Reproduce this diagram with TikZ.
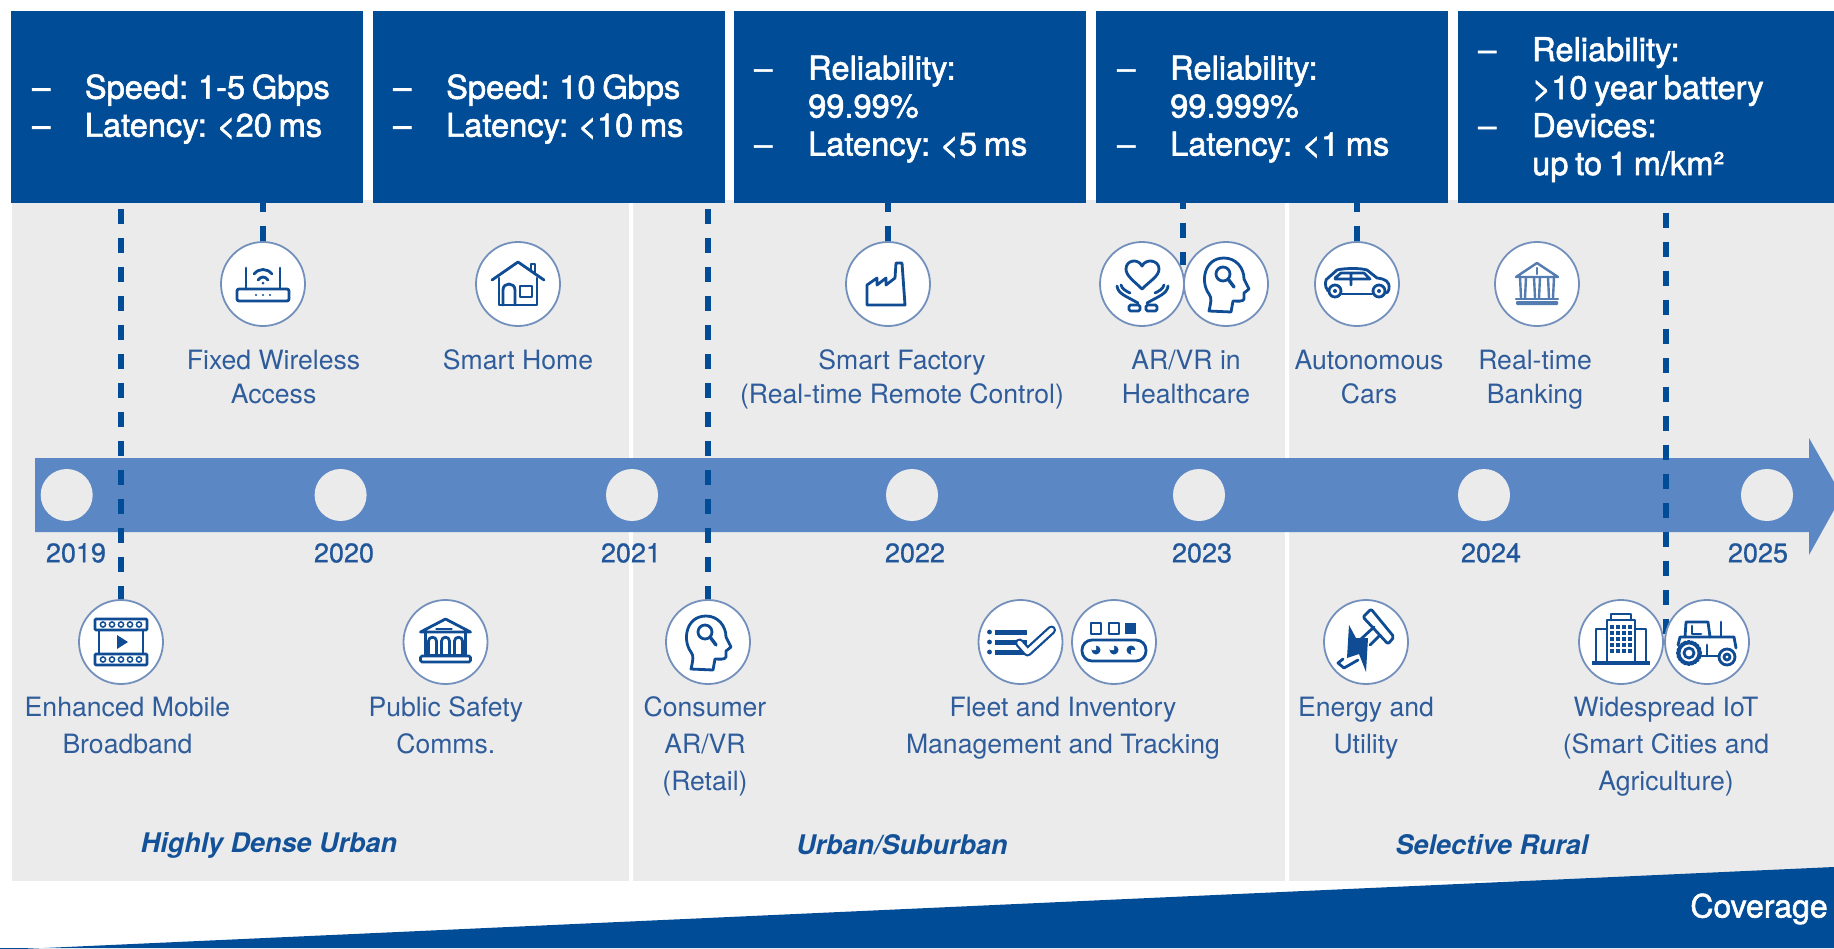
\documentclass[tikz,border=0pt]{standalone}
\usepackage{fontspec}
\setmainfont{TeX Gyre Heros}
\newfontfamily\medf{TeX Gyre Heros}[FakeBold=1.8,WordSpace=0.75]
\newfontfamily\yearf{TeX Gyre Heros}[FakeBold=0.8]
\definecolor{navy}{HTML}{004C97}
\definecolor{barblue}{HTML}{5B87C5}
\definecolor{panelgray}{HTML}{EBEBEB}
\definecolor{ringblue}{HTML}{7390BC}
\definecolor{labelblue}{HTML}{2F5C9B}
\definecolor{iconblue}{HTML}{0F4C94}
\pgfdeclarelayer{backdrop}
\pgfdeclarelayer{links}
\pgfsetlayers{backdrop,links,main}
\tikzset{
  x=1pt,y=-1pt,
  topbox/.style={fill=navy,anchor=north west,inner sep=0pt,minimum height=191.6pt},
  boxtext/.style={anchor=base west,inner sep=0pt,text=white,font=\fontsize{32.6}{38}\selectfont\medf},
  usecase/.style={anchor=center,inner sep=0pt,align=center,text=labelblue,font=\fontsize{26.6}{34.5}\selectfont},
  usecaselow/.style={usecase,font=\fontsize{26.6}{37}\selectfont},
  yeartext/.style={anchor=center,inner sep=0pt,text=labelblue!70!navy,font=\fontsize{27}{32}\selectfont\yearf},
  zonetext/.style={anchor=center,inner sep=0pt,text=labelblue!40!navy,font=\fontsize{27}{32}\selectfont\bfseries\itshape},
  iconring/.style={circle,fill=white,draw=ringblue,line width=1.8pt,minimum size=84pt,inner sep=0pt},
  yeardot/.style={circle,fill=panelgray,minimum size=52pt,inner sep=0pt},
  linkline/.style={draw=navy,line width=5.5pt,dash pattern=on 15.5pt off 13.5pt},
  iconline/.style={draw=iconblue,line width=2.8pt,line join=round,line cap=round},
  iconfill/.style={fill=iconblue},
}
\newcommand{\iconRouter}[1]{\begin{scope}[shift={(#1.center)},iconline]
  \draw[rounded corners=2pt] (-26,5) rectangle (26,17);
  \draw (-17,5) -- (-17,-16) (17,5) -- (17,-16);
  \draw (-9,-10) .. controls (-4,-16) and (4,-16) .. (9,-10);
  \draw (-5,-4) .. controls (-2,-8) and (2,-8) .. (5,-4);
  \fill[iconfill] (0,-1) circle (1.5pt) (-7,11) circle (1.1pt) (0,11) circle (1.1pt) (7,11) circle (1.1pt);
\end{scope}}
\newcommand{\iconHome}[1]{\begin{scope}[shift={(#1.center)},iconline]
  \draw (-26,-4) -- (0,-22) -- (26,-4);
  \draw (-19,-6) -- (-19,21) -- (19,21) -- (19,-6);
  \draw (13,-13) -- (13,-20) -- (17,-20) -- (17,-10);
  \draw (-15,21) -- (-15,6) .. controls (-15,-2) and (-3,-2) .. (-3,6) -- (-3,21);
  \draw (2,2) rectangle (14,13);
\end{scope}}
\newcommand{\iconFactory}[1]{\begin{scope}[shift={(#1.center)},iconline]
  \draw (-21,21) -- (-21,1) -- (-11,-6) -- (-11,1) -- (-2,-6) -- (-2,1) -- (7,-6) -- (8,-21) -- (14,-21) -- (17,21) -- cycle;
\end{scope}}
\newcommand{\iconHeart}[1]{\begin{scope}[shift={(#1.center)},iconline]
  \draw (0,5) .. controls (-8,-3) and (-16,-8) .. (-16,-15) .. controls (-16,-24) and (-4,-26) .. (0,-18) .. controls (4,-26) and (17,-24) .. (17,-15) .. controls (17,-8) and (8,-3) .. (0,5) -- cycle;
  \draw (-25,2) .. controls (-24,10) and (-16,12) .. (-4,19) (-21,1) .. controls (-20,5) and (-16,7) .. (-12,9);
  \draw (26,2) .. controls (25,10) and (17,12) .. (5,19) (22,1) .. controls (21,5) and (17,7) .. (13,9);
  \draw[rounded corners=1.5pt] (-13,21) rectangle (-2,27) (4,21) rectangle (15,27);
\end{scope}}
\newcommand{\iconHead}[1]{\begin{scope}[shift={(#1.center)},iconline]
  \draw (-17,27) .. controls (-15,18) and (-14,14) .. (-17,10) .. controls (-26,-2) and (-22,-26) .. (-2,-26) .. controls (10,-26) and (18,-16) .. (18,-5) -- (23,5) -- (18,9) -- (18,15) .. controls (17,18) and (11,17) .. (7,17) -- (5,28) -- cycle;
  \draw (-3,-10) circle (7pt);
  \draw[line width=3.4pt] (2,-5) -- (8,3);
\end{scope}}
\newcommand{\iconCar}[1]{\begin{scope}[shift={(#1.center)},iconline]
  \draw (-29,7) .. controls (-33,2) and (-32,-5) .. (-29,-6) -- (-20,-14) .. controls (-12,-16) and (4,-16) .. (10,-14) -- (20,-6) .. controls (28,-5) and (33,-3) .. (32,5) .. controls (32,8) and (30,9) .. (28,9);
  \draw (-15,10) -- (15,10);
  \draw (-22,-6) -- (-16,-11) -- (-6,-11) -- (-6,1) (-6,-11) -- (7,-11) -- (13,-5) -- (-22,-5);
  \draw (-22,7) circle (6pt) (22,7) circle (6pt);
  \fill[iconfill] (-22,7) circle (2pt) (22,7) circle (2pt);
\end{scope}}
\newcommand{\iconGreek}[1]{\begin{scope}[shift={(#1.center)},iconline,draw=ringblue!70!iconblue,line width=2.4pt]
  \draw (-21,-7) -- (0,-21) -- (21,-7) -- cycle;
  \draw (0,-16) -- (0,-10);
  \foreach \cx in {-14,0,14} {\draw (\cx-3,-7) -- (\cx-2,14) (\cx+3,-7) -- (\cx+2,14);}
  \draw (-21,15) -- (21,15);
  \fill[ringblue!70!iconblue,rounded corners=1pt] (-21,17) rectangle (21,21);
\end{scope}}
\newcommand{\iconFilm}[1]{\begin{scope}[shift={(#1.center)},iconline]
  \draw[rounded corners=1pt] (-26,-23) rectangle (26,-12) (-26,12) rectangle (26,23);
  \draw (-22,-12) -- (-22,12) (22,-12) -- (22,12);
  \foreach \cx in {-18,-9,0,9,18} {\draw[line width=1.5pt] (\cx,-17.5) circle (2.6pt) (\cx,17.5) circle (2.6pt);}
  \fill[iconfill] (-4,-7) -- (7,0) -- (-4,7) -- cycle;
\end{scope}}
\newcommand{\iconCivic}[1]{\begin{scope}[shift={(#1.center)},iconline]
  \draw (-25,-10) -- (0,-23) -- (25,-10) -- (-25,-10);
  \draw (-9,-13) -- (6,-13);
  \foreach \cx in {-13,0,13} {\draw (\cx-4,13) -- (\cx-4,-1) .. controls (\cx-4,-6) and (\cx+4,-6) .. (\cx+4,-1) -- (\cx+4,13);}
  \draw (-20,-10) -- (-20,13) -- (20,13) -- (20,-10);
  \draw[rounded corners=1.5pt] (-25,14) rectangle (25,20);
\end{scope}}
\newcommand{\iconList}[1]{\begin{scope}[shift={(#1.center)},iconline]
  \foreach \ry in {-10,0,10} {\draw[line width=5pt,line cap=butt] (-26,\ry) -- (6,\ry); \fill[iconfill] (-31,\ry) circle (2.4pt);}
  \draw[line width=9pt] (-1,1) -- (7,10) -- (31,-12);
  \draw[white,line width=4.5pt] (-1,1) -- (7,10) -- (31,-12);
\end{scope}}
\newcommand{\iconBelt}[1]{\begin{scope}[shift={(#1.center)},iconline]
  \draw (-23,-19) rectangle (-13,-8) (-5,-19) rectangle (5,-8);
  \fill[iconfill] (11,-19) rectangle (22,-8);
  \draw[rounded corners=10pt] (-32,-2) rectangle (32,19);
  \foreach \cx in {-18,0,17} {\fill[iconfill] (\cx,8) circle (4.5pt);}
  \fill[white] (-22,3) rectangle (-18,8) (-4,3) rectangle (0,8) (17,8) rectangle (22,12);
\end{scope}}
\newcommand{\iconEnergy}[1]{\begin{scope}[shift={(#1.center)},iconline]
  \draw[rounded corners=2pt] (-3,-25) -- (5,-33) -- (28,-5) -- (22,2) -- cycle;
  \draw (8,-15) -- (-5,-3) (14,-7) -- (4,3);
  \fill[iconfill] (-17,-17) -- (-10,-4) -- (2,-4) -- (0,30) -- (-7,12) -- (-19,16) -- cycle;
  \draw (-23,17) -- (-28,21) -- (-22,26) -- (-8,18);
\end{scope}}
\newcommand{\iconTower}[1]{\begin{scope}[shift={(#1.center)},iconline]
  \draw (-14,21) -- (-14,-22) -- (14,-22) -- (14,21);
  \draw (-10,-22) -- (-10,-28) -- (10,-28) -- (10,-22);
  \draw (-14,-13) -- (-25,-13) -- (-25,21) (14,-13) -- (25,-13) -- (25,21);
  \draw[line width=3.5pt,line cap=butt] (-29,21) -- (29,21);
  \foreach \wx in {-9,-3,3,9} {\foreach \wy in {-15,-9,-3,3,9} {\fill[iconfill] (\wx-1.6,\wy-1.6) rectangle (\wx+1.6,\wy+1.6);}}
\end{scope}}
\newcommand{\iconTractor}[1]{\begin{scope}[shift={(#1.center)},iconline]
  \draw[line width=2.8pt,dash pattern=on 2pt off 1.5pt] (-18,11) circle (11.5pt);
  \draw (-18,11) circle (10pt) (-18,11) circle (5pt);
  \draw (20,15) circle (8pt) (20,15) circle (3pt);
  \draw (-22,-5) -- (-21,-20) -- (1,-20) -- (3,-5);
  \draw (-29,3) -- (-27,-5) -- (27,-5) -- (29,6);
  \draw (-7,14) -- (11,14) (0,3) -- (0,14);
  \draw (14,-6) -- (14,-20);
  \draw (-15,-16) -- (-15,-8) -- (-6,-8);
\end{scope}}
\begin{document}
\begin{tikzpicture}
\useasboundingbox (0,0) rectangle (1834,948);
\begin{pgfonlayer}{backdrop}
  \fill[white] (0,0) rectangle (1834,948);
  \fill[panelgray] (12,200) rectangle (1834,881);
  \fill[white] (629,200) rectangle (633,881) (1285,200) rectangle (1289,881);
  \fill[navy] (0,950) -- (1834,867) -- (1834,948) -- (0,948) -- cycle;
  \fill[barblue] (35,458) -- (1809,458) -- (1809,438) -- (1834,482) -- (1834,510) -- (1809,555) -- (1809,532) -- (35,532) -- cycle;
\end{pgfonlayer}
% header boxes
\node[topbox,minimum width=352.3pt] (b1) at (10.7,10.7) {};
\node[topbox,minimum width=351.5pt] (b2) at (373,10.7) {};
\node[topbox,minimum width=352.3pt] (b3) at (733.7,10.7) {};
\node[topbox,minimum width=352pt] (b4) at (1096,10.7) {};
\node[topbox,minimum width=376pt] (b5) at (1458,10.7) {};
\node[boxtext] (b1d1) at (32,98.7) {–};
\node[boxtext] (b1t1) at (84.7,98.7) {Speed: 1-5 Gbps};
\node[boxtext] (b1d2) at (32,136.7) {–};
\node[boxtext] (b1t2) at (84.7,136.7) {Latency: <20 ms};
\node[boxtext] (b2d1) at (393,98.7) {–};
\node[boxtext] (b2t1) at (446,98.7) {Speed: 10 Gbps};
\node[boxtext] (b2d2) at (393,136.7) {–};
\node[boxtext] (b2t2) at (446,136.7) {Latency: <10 ms};
\node[boxtext] (b3d1) at (754,79.5) {–};
\node[boxtext] (b3t1) at (808,79.5) {Reliability:};
\node[boxtext] (b3t2) at (808,117.5) {99.99\%};
\node[boxtext] (b3d2) at (754,155.5) {–};
\node[boxtext] (b3t3) at (808,155.5) {Latency: <5 ms};
\node[boxtext] (b4d1) at (1117,79.5) {–};
\node[boxtext] (b4t1) at (1170,79.5) {Reliability:};
\node[boxtext] (b4t2) at (1170,117.5) {99.999\%};
\node[boxtext] (b4d2) at (1117,155.5) {–};
\node[boxtext] (b4t3) at (1170,155.5) {Latency: <1 ms};
\node[boxtext] (b5d1) at (1478,61) {–};
\node[boxtext] (b5t1) at (1532,61) {Reliability:};
\node[boxtext] (b5t2) at (1532,99) {>10 year battery};
\node[boxtext] (b5d2) at (1478,137) {–};
\node[boxtext] (b5t3) at (1532,137) {Devices:};
\node[boxtext] (b5t4) at (1532,175) {up to 1 m/km²};
% year markers
\node[yeardot] (y19) at (66.7,495) {};
\node[yeardot] (y20) at (340.6,495) {};
\node[yeardot] (y21) at (632,495) {};
\node[yeardot] (y22) at (912,495) {};
\node[yeardot] (y23) at (1199,495) {};
\node[yeardot] (y24) at (1484,495) {};
\node[yeardot] (y25) at (1767,495) {};
\node[yeartext] (l19) at (76,553) {2019};
\node[yeartext] (l20) at (344,553) {2020};
\node[yeartext] (l21) at (631,553) {2021};
\node[yeartext] (l22) at (915,553) {2022};
\node[yeartext] (l23) at (1202,553) {2023};
\node[yeartext] (l24) at (1491,553) {2024};
\node[yeartext] (l25) at (1758,553) {2025};
% rings
\node[iconring] (cRouter) at (263,284) {};
\node[iconring] (cHome) at (518,284) {};
\node[iconring] (cFactory) at (888,284) {};
\node[iconring] (cHeart) at (1142,284) {};
\node[iconring] (cHead) at (1226,284) {};
\node[iconring] (cCar) at (1357,284) {};
\node[iconring] (cBank) at (1537,284) {};
\node[iconring] (cFilm) at (121,642) {};
\node[iconring] (cCivic) at (445.5,642) {};
\node[iconring] (cRetail) at (708,642) {};
\node[iconring] (cList) at (1020.5,642) {};
\node[iconring] (cBelt) at (1114,642) {};
\node[iconring] (cEnergy) at (1366,642) {};
\node[iconring] (cTower) at (1621,642) {};
\node[iconring] (cTractor) at (1707,642) {};
\iconRouter{cRouter}
\iconHome{cHome}
\iconFactory{cFactory}
\iconHeart{cHeart}
\iconHead{cHead}
\iconCar{cCar}
\iconGreek{cBank}
\iconFilm{cFilm}
\iconCivic{cCivic}
\iconHead{cRetail}
\iconList{cList}
\iconBelt{cBelt}
\iconEnergy{cEnergy}
\iconTower{cTower}
\iconTractor{cTractor}
% connectors
\coordinate (endHealth) at (1183,265);
\coordinate (endIot) at (1666,637);
\begin{pgfonlayer}{links}
  \draw[linkline,dash phase=23pt] (cFilm.north |- b1.south) -- (cFilm.north);
  \draw[linkline,dash phase=6pt] (cRouter.north |- b1.south) -- (cRouter.north);
  \draw[linkline,dash phase=23pt] (cRetail.north |- b2.south) -- (cRetail.north);
  \draw[linkline,dash phase=6pt] (cFactory.north |- b3.south) -- (cFactory.north);
  \draw[linkline,dash phase=9pt] (endHealth |- b4.south) -- (endHealth);
  \draw[linkline,dash phase=6pt] (cCar.north |- b4.south) -- (cCar.north);
  \draw[linkline,dash phase=19pt] (endIot |- b5.south) -- (endIot);
\end{pgfonlayer}
% use-case labels
\node[usecase] (tRouter) at (273.6,379.7) {\strut Fixed Wireless\\\strut Access};
\node[usecase] (tHome) at (518,362.5) {\strut Smart Home};
\node[usecase] (tFactory) at (902,379.7) {\strut Smart Factory\\\strut (Real-time Remote Control)};
\node[usecase] (tHealth) at (1186,379.7) {\strut AR/VR in\\\strut Healthcare};
\node[usecase] (tCar) at (1369,379.7) {\strut Autonomous\\\strut Cars};
\node[usecase] (tBank) at (1535,379.7) {\strut Real-time\\\strut Banking};
\node[usecaselow] (tFilm) at (127.5,727.5) {\strut Enhanced Mobile\\\strut Broadband};
\node[usecaselow] (tCivic) at (445.8,727.5) {\strut Public Safety\\\strut Comms.};
\node[usecaselow] (tRetail) at (705,746) {\strut Consumer\\\strut AR/VR\\\strut (Retail)};
\node[usecaselow] (tFleet) at (1063,727.5) {\strut Fleet and Inventory\\\strut Management and Tracking};
\node[usecaselow] (tEnergy) at (1366,727.5) {\strut Energy and\\\strut Utility};
\node[usecaselow] (tIot) at (1666,746) {\strut Widespread IoT\\\strut (Smart Cities and\\\strut Agriculture)};
% zones
\node[zonetext] (zUrban) at (269,845) {Highly Dense Urban};
\node[zonetext] (zSub) at (902,845) {Urban/Suburban};
\node[zonetext] (zRural) at (1492,845) {Selective Rural};
\node[anchor=center,inner sep=0pt,text=white,font=\fontsize{32}{36}\selectfont\medf] (tCov) at (1759,909) {Coverage};
\end{tikzpicture}
\end{document}
